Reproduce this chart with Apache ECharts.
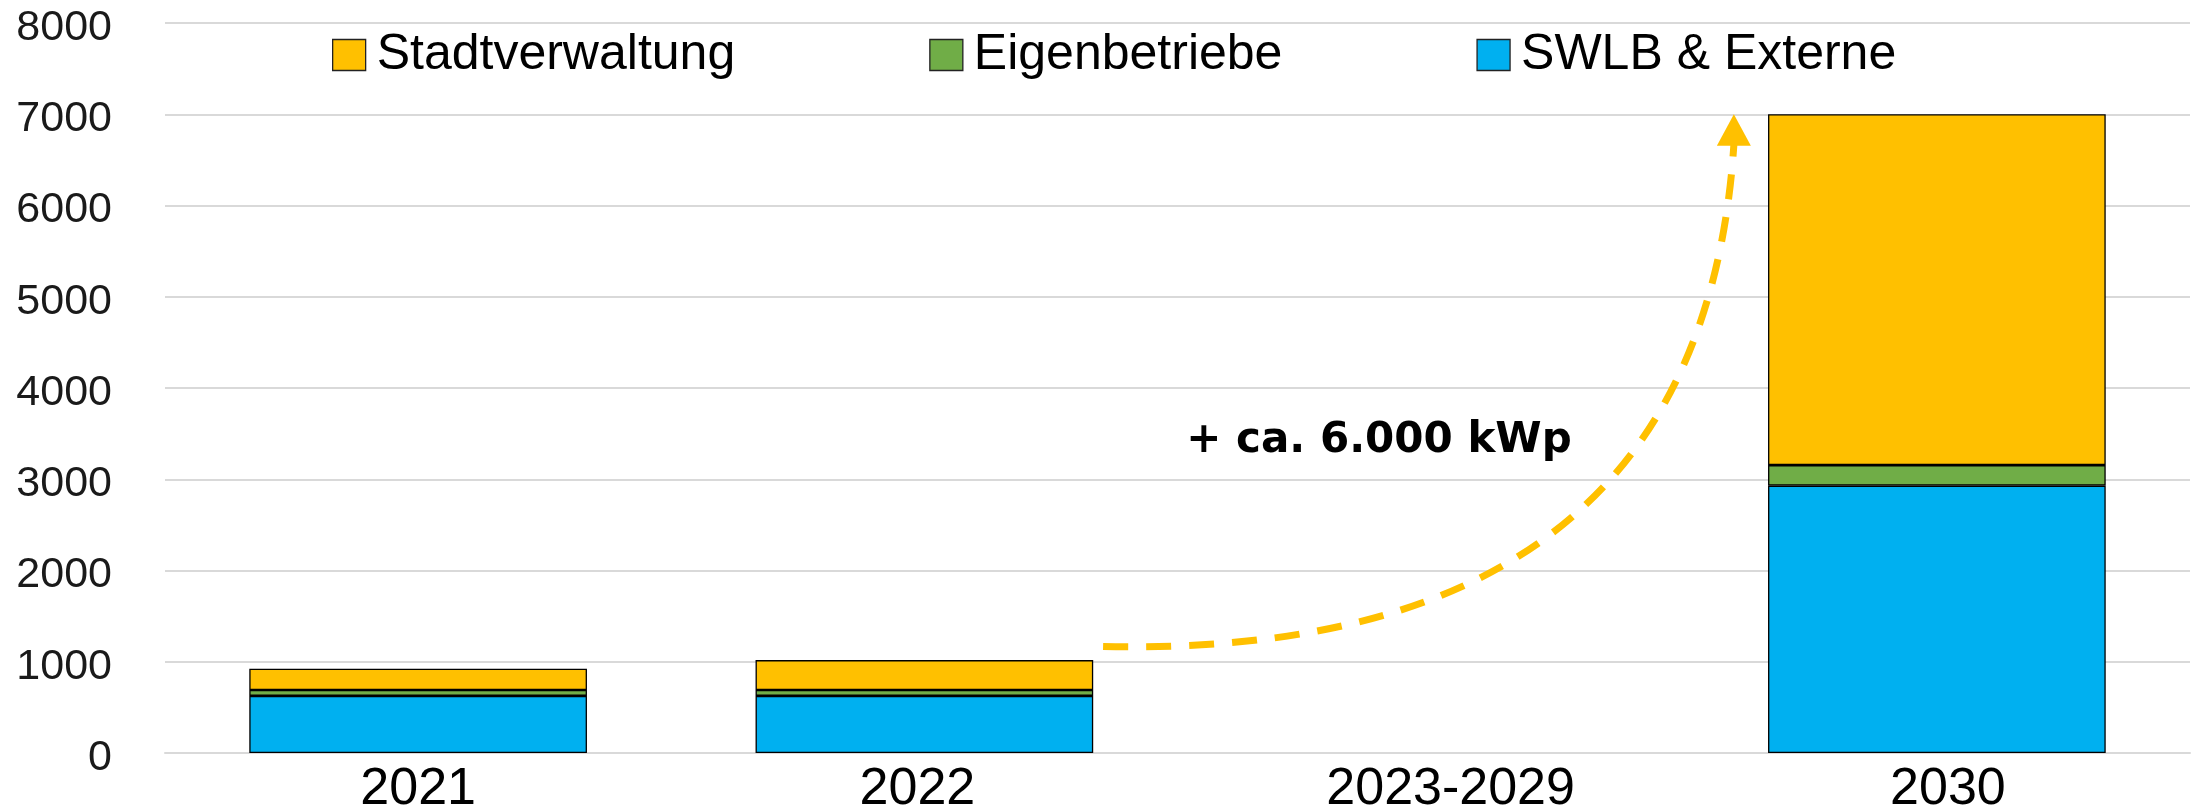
<!DOCTYPE html>
<html>
<head>
<meta charset="utf-8">
<title>PV-Leistung</title>
<script src="https://cdn.jsdelivr.net/npm/echarts/dist/echarts.min.js"></script>
<style>
  html, body { margin: 0; padding: 0; background: #fff; }
  #main { width: 2198px; height: 805px; }
</style>
</head>
<body>
<div id="main"></div>
<script>
// Daten (kWp)
const categories = ['2021', '2022', '2023-2029', '2030'];
const swlbValues = [626, 626, '-', 2930];   // SWLB & Externe
const eigenValues = [64, 64, '-', 225];     // Eigenbetriebe
const stadtValues = [233, 328, '-', 3845];  // Stadtverwaltung
const legendNames = ['Stadtverwaltung', 'Eigenbetriebe', 'SWLB & Externe'];
const yTicks = { min: 0, max: 8000, interval: 1000 };

// Pfeil + Beschriftung, in Achsen-Einheiten (x: 0..4 ueber die Kategorien)
const arrowStart = [1.853, 1167];
const arrowCtrl = [3.032, 1024];
const arrowEnd = [3.099, 6666];
const arrowTip = [3.099, 7000];
const noteText = '+ ca. 6.000 kWp';
const notePos = [2.398, 3415];

const chart = echarts.init(document.getElementById('main'));

const font = '"Liberation Sans", Arial, sans-serif';
const border = { borderColor: '#000', borderWidth: 1.3 };

// Beschriftungen im Original leicht versetzt -> Padding je Kategorie
const labelPads = [[0, 0, 0, 0], [0, 14, 0, 0], [0, 0, 0, 40], [0, 0, 0, 22]];
const xData = categories.map(function (c, i) {
  return { value: c, textStyle: { padding: labelPads[i] } };
});

const option = {
  animation: false,
  grid: { left: 165, right: 8, top: 23, bottom: 52, containLabel: false, outerBoundsMode: 'none' },
  legend: {
    data: legendNames,
    left: 332,
    top: 30,
    padding: 0,
    itemWidth: 33,
    itemHeight: 31,
    itemGap: 194,
    icon: 'rect',
    textStyle: { fontFamily: font, fontSize: 50, color: '#000', padding: [0, 0, 0, 6] },
    itemStyle: { borderColor: '#222', borderWidth: 1.3 }
  },
  xAxis: [
    {
      type: 'category',
      data: xData,
      axisTick: { show: false },
      axisLine: { lineStyle: { color: '#d9d9d9', width: 2 } },
      axisLabel: { fontFamily: font, fontSize: 52, color: '#000', margin: 11 }
    },
    {
      // unsichtbare Hilfsachse fuer den Pfeil
      type: 'value', min: 0, max: 4, show: false
    }
  ],
  yAxis: {
    type: 'value',
    min: yTicks.min,
    max: yTicks.max,
    interval: yTicks.interval,
    axisLine: { show: false },
    axisTick: { show: false },
    axisLabel: {
      margin: 53,
      // Zahlen stehen im Original etwas unter der Gitterlinie
      formatter: function (v) { return '{n|' + v + '}'; },
      rich: {
        n: { fontFamily: font, fontSize: 43, color: '#1a1a1a', padding: [10, 0, 0, 0] }
      }
    },
    splitLine: { lineStyle: { color: '#d9d9d9', width: 2 } }
  },
  series: [
    {
      name: 'SWLB & Externe', type: 'bar', stack: 'pv', barWidth: '66.7%',
      data: swlbValues, itemStyle: Object.assign({ color: '#00B0F0' }, border)
    },
    {
      name: 'Eigenbetriebe', type: 'bar', stack: 'pv', barWidth: '66.7%',
      data: eigenValues, itemStyle: Object.assign({ color: '#70AD47' }, border)
    },
    {
      name: 'Stadtverwaltung', type: 'bar', stack: 'pv', barWidth: '66.7%',
      data: stadtValues, itemStyle: Object.assign({ color: '#FFC000' }, border)
    }
  ]
};
chart.setOption(option);

// Pixelpositionen ueber die Hilfsachse ausrechnen
function px(p) {
  return chart.convertToPixel({ xAxisIndex: 1, yAxisIndex: 0 }, p);
}
const s = px(arrowStart), c = px(arrowCtrl), e = px(arrowEnd), t = px(arrowTip), n = px(notePos);
const half = 17;

chart.setOption({
  graphic: [
    {
      type: 'bezierCurve',
      shape: { x1: s[0], y1: s[1], x2: e[0], y2: e[1], cpx1: c[0], cpy1: c[1] },
      style: { stroke: '#FFC000', lineWidth: 7, lineDash: [25, 18], fill: null },
      z: 10
    },
    {
      type: 'polygon',
      shape: { points: [[t[0], t[1]], [t[0] - half, e[1] + 1], [t[0] + half, e[1] + 1]] },
      style: { fill: '#FFC000' },
      z: 10
    },
    {
      type: 'text',
      x: n[0], y: n[1],
      style: {
        text: noteText,
        fontFamily: '"DejaVu Sans", Verdana, sans-serif',
        fontWeight: 'bold',
        fontSize: 42,
        fill: '#000',
        align: 'center',
        verticalAlign: 'middle'
      },
      z: 10
    }
  ]
});
</script>
</body>
</html>
